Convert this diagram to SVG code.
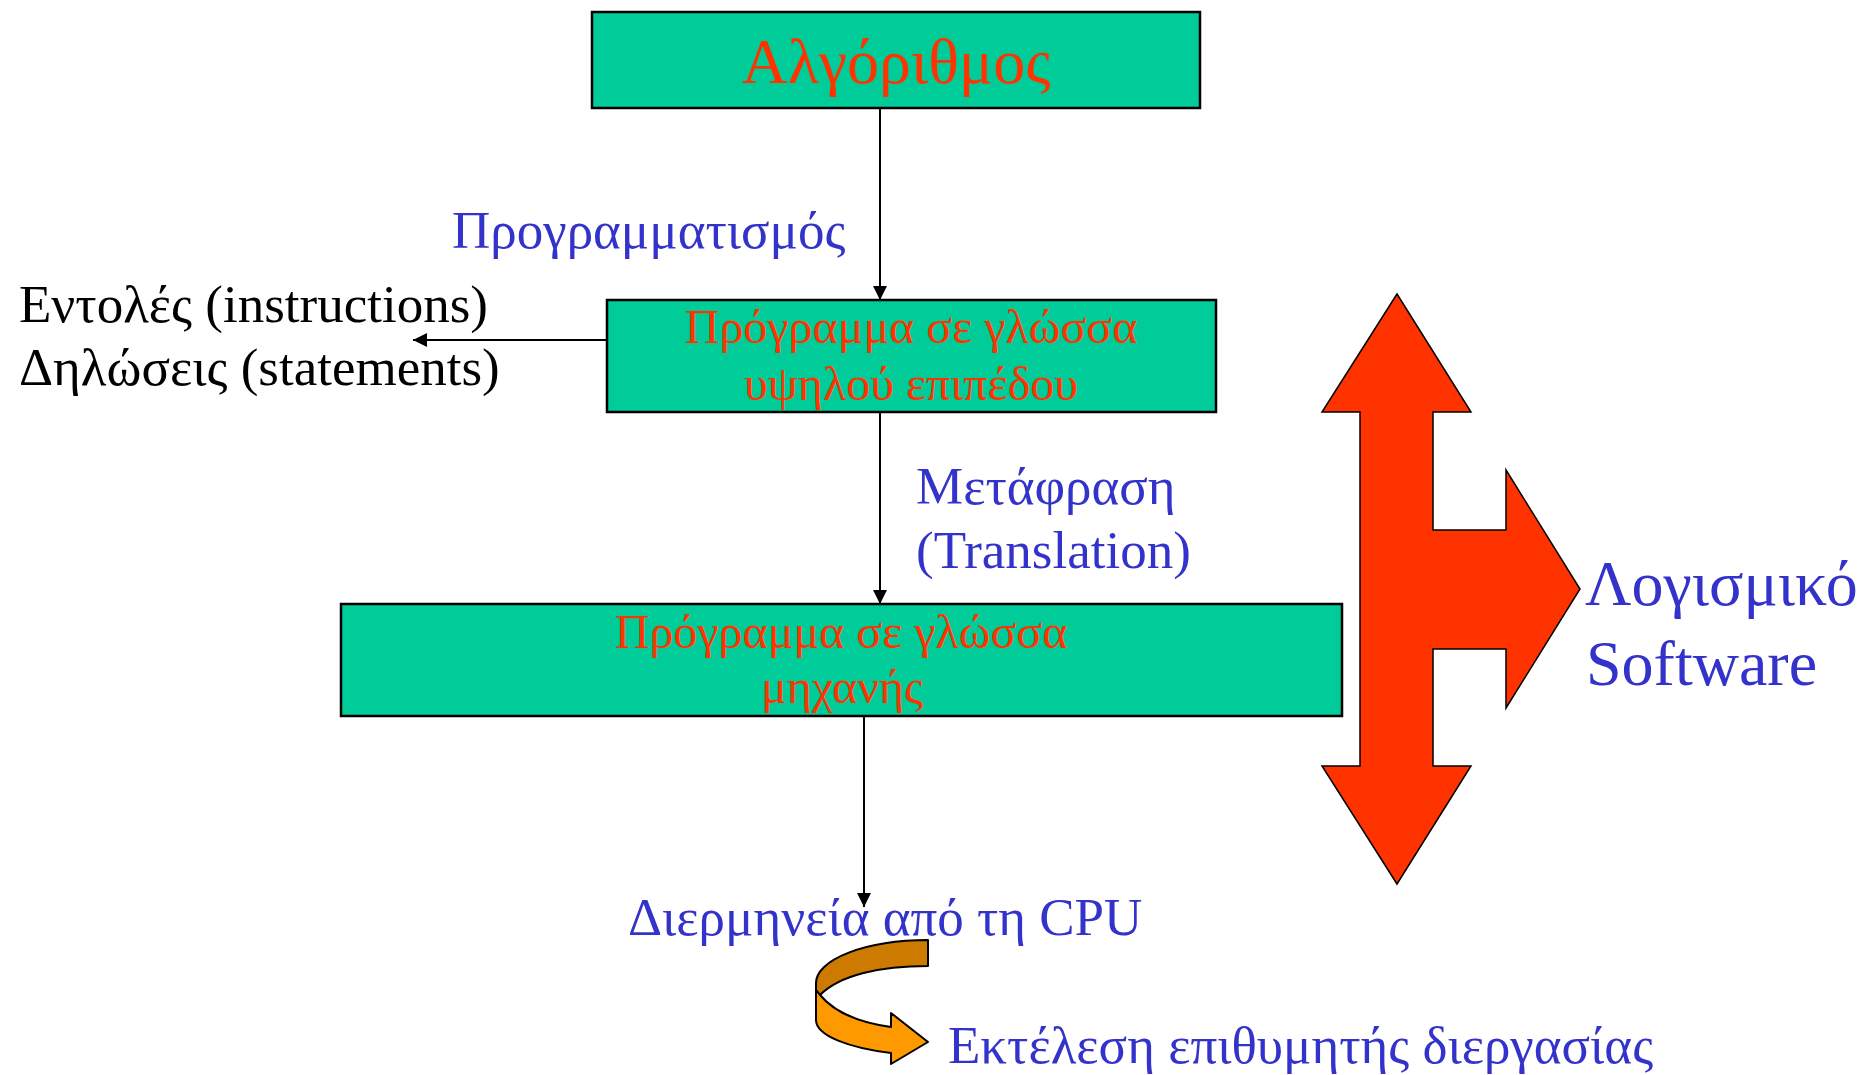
<svg xmlns="http://www.w3.org/2000/svg" width="1863" height="1075" viewBox="0 0 1863 1075">
<style>
  .box { fill: #00CC99; stroke: #000; stroke-width: 2.5; }
  .t { font-family: "Liberation Serif", "Times New Roman", serif; }
  .red { fill: #FF3300; }
  .blue { fill: #3333CC; }
  .blk { fill: #000; }
  .conn { stroke: #000; stroke-width: 2; fill: none; }
</style>
<defs>
  <marker id="ah" viewBox="0 0 10 10" refX="10" refY="5" markerWidth="16" markerHeight="14" markerUnits="userSpaceOnUse" orient="auto">
    <path d="M0,0 L10,5 L0,10 z" fill="#000"/>
  </marker>
</defs>
<rect width="1863" height="1075" fill="#fff"/>

<g id="connectors">
  <line class="conn" x1="880" y1="108" x2="880" y2="300" marker-end="url(#ah)"/>
  <line class="conn" x1="607" y1="340" x2="413" y2="340" marker-end="url(#ah)"/>
  <line class="conn" x1="880" y1="412" x2="880" y2="604" marker-end="url(#ah)"/>
  <line class="conn" x1="864" y1="716" x2="864" y2="907" marker-end="url(#ah)"/>
</g>

<g id="algorithm">
  <rect class="box" x="592" y="12" width="608" height="96"/>
  <text class="t red" x="896" y="83" font-size="64" text-anchor="middle">Αλγόριθμος</text>
</g>

<g id="programming-label">
  <text class="t blue" x="452" y="248" font-size="53">Προγραμματισμός</text>
</g>

<g id="high-level">
  <rect class="box" x="607" y="300" width="609" height="112"/>
  <text class="t red" x="911" y="343" font-size="48" text-anchor="middle">Πρόγραμμα σε γλώσσα</text>
  <text class="t red" x="911" y="400" font-size="48" text-anchor="middle">υψηλού επιπέδου</text>
</g>

<g id="instructions">
  <text class="t blk" x="19" y="322" font-size="53">Εντολές (instructions)</text>
  <text class="t blk" x="19" y="385" font-size="53">Δηλώσεις (statements)</text>
</g>

<g id="translation-label">
  <text class="t blue" x="916" y="504" font-size="53">Μετάφραση</text>
  <text class="t blue" x="916" y="568" font-size="53">(Translation)</text>
</g>

<g id="machine">
  <rect class="box" x="341" y="604" width="1001" height="112"/>
  <text class="t red" x="841" y="648" font-size="48" text-anchor="middle">Πρόγραμμα σε γλώσσα</text>
  <text class="t red" x="842" y="703" font-size="48" text-anchor="middle">μηχανής</text>
</g>

<g id="software-arrow">
  <polygon points="1397,294 1471,412 1433,412 1433,530 1506,530 1506,470 1580,589 1506,708 1506,649 1433,649 1433,766 1471,766 1397,884 1322,766 1360,766 1360,412 1322,412" fill="#FF3300" stroke="#000" stroke-width="1.5" stroke-linejoin="miter"/>
</g>

<g id="software">
  <text class="t blue" x="1585" y="605" font-size="64">Λογισμικό</text>
  <text class="t blue" x="1586" y="685" font-size="64">Software</text>
</g>

<g id="cpu">
  <text class="t blue" x="628" y="935" font-size="53">Διερμηνεία από τη CPU</text>
</g>

<g id="curved-arrow">
  <path d="M928,940 A112,43 0 0 0 816,983 L816,990 L820,995 C840,975 880,966 928,966 Z" fill="#CC7A00" stroke="#000" stroke-width="2" stroke-linejoin="round"/>
  <path d="M820,995 C835,1013 862,1023 891,1027 L891,1013 L928,1042 L891,1064 L891,1053 C850,1048 816,1036 816,1020 L816,990 Z" fill="#FF9900" stroke="#000" stroke-width="2" stroke-linejoin="round"/>
</g>

<g id="execution">
  <text class="t blue" x="948" y="1063" font-size="53">Εκτέλεση επιθυμητής διεργασίας</text>
</g>
</svg>
